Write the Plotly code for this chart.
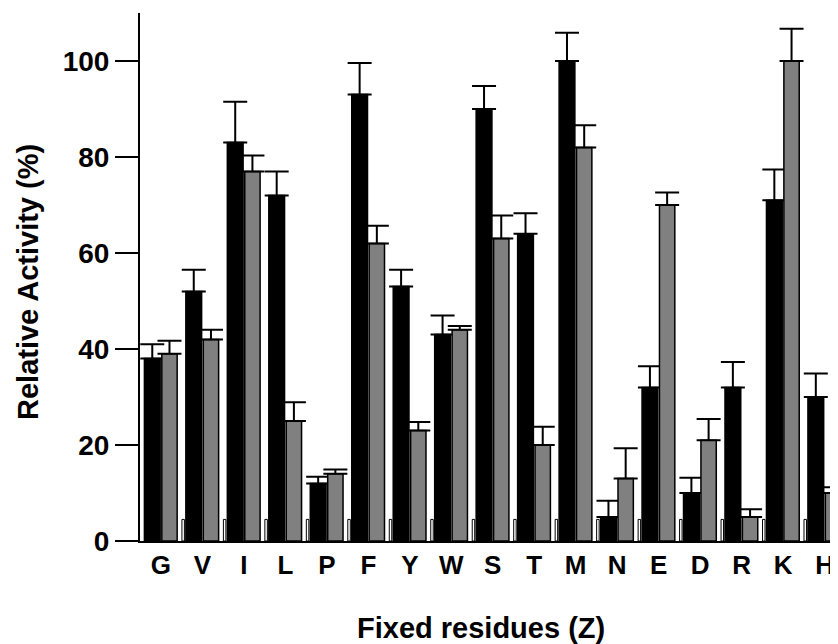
import plotly.graph_objects as go

residues = ["G", "V", "I", "L", "P", "F", "Y", "W", "S", "T", "M", "N", "E", "D", "R", "K", "H"]
black_vals = [38, 52, 83, 72, 12, 93, 53, 43, 90, 64, 100, 5, 32, 10, 32, 71, 30]
black_err = [3.0, 4.5, 8.5, 5.0, 1.4, 6.6, 3.5, 4.0, 4.8, 4.3, 5.9, 3.4, 4.4, 3.2, 5.3, 6.4, 4.9]
gray_vals = [39, 42, 77, 25, 14, 62, 23, 44, 63, 20, 82, 13, 70, 21, 5, 100, 10]
gray_err = [2.7, 2.0, 3.3, 3.9, 0.9, 3.7, 1.8, 0.8, 4.8, 3.8, 4.6, 6.3, 2.6, 4.4, 1.6, 6.7, 1.2]
third_vals = [4.5] * len(residues)

FONT = "Liberation Sans, Arial, Helvetica, sans-serif"
x = list(range(len(residues)))

fig = go.Figure()
fig.add_trace(go.Bar(
    x=x, y=black_vals, name="Series 1",
    offset=-0.40, width=0.38,
    marker=dict(color="black", line=dict(color="black", width=1.5)),
    error_y=dict(type="data", array=black_err, symmetric=False,
                 arrayminus=[0] * len(residues), color="black", thickness=2, width=12),
))
fig.add_trace(go.Bar(
    x=x, y=gray_vals, name="Series 2",
    offset=0.02, width=0.37,
    marker=dict(color="#808080", line=dict(color="black", width=1.5)),
    error_y=dict(type="data", array=gray_err, symmetric=False,
                 arrayminus=[0] * len(residues), color="black", thickness=2, width=12),
))
fig.add_trace(go.Bar(
    x=x, y=third_vals, name="Series 3",
    offset=0.505, width=0.06,
    marker=dict(color="white", line=dict(color="black", width=1)),
))

# page body has an 8px default margin; figure sized/offset to compensate
fig.update_layout(
    width=830, height=636,
    margin=dict(l=132, r=0, t=5, b=103),
    paper_bgcolor="white", plot_bgcolor="white",
    barmode="overlay",
    showlegend=False,
    font=dict(family=FONT, color="black"),
    xaxis=dict(
        range=[-0.506, 16.325],
        tickmode="array", tickvals=x, ticktext=residues,
        tickfont=dict(family=FONT, size=26, weight="bold", color="black"),
        showline=True, linecolor="black", linewidth=2,
        ticks="", showgrid=False, zeroline=False,
    ),
    yaxis=dict(
        range=[0, 110],
        tickmode="array", tickvals=[0, 20, 40, 60, 80, 100],
        tickfont=dict(family=FONT, size=28, weight="bold", color="black"),
        showline=True, linecolor="black", linewidth=2,
        ticks="outside", ticklen=23, tickwidth=2, tickcolor="black",
        showgrid=False, zeroline=False,
    ),
    annotations=[
        dict(text="Relative Activity (%)", x=-0.1605, y=0.4905,
             xref="paper", yref="paper", textangle=-90,
             xanchor="center", yanchor="middle", showarrow=False,
             font=dict(family=FONT, size=29, weight="bold", color="black")),
        dict(text="Fixed residues (Z)", x=0.4885, y=-0.1648,
             xref="paper", yref="paper",
             xanchor="center", yanchor="middle", showarrow=False,
             font=dict(family=FONT, size=29, weight="bold", color="black")),
    ],
)

fig.write_html("out.html")
